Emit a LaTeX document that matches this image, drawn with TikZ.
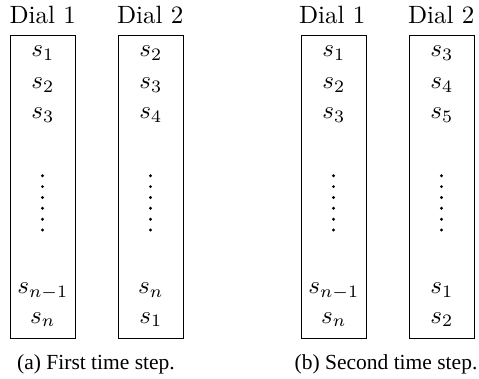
\documentclass[tikz,border=0pt]{standalone}
\usepackage[no-math]{fontspec}
\setmainfont{lmroman10-regular}[Extension=.otf]
\newfontfamily\capfont{Liberation Serif}
\DeclareFontShape{OML}{cmm}{m}{it}{<-15>cmmi5<15-20>cmmi7<20->cmmi10}{\skewchar\font'177}
\DeclareFontShape{OMS}{cmsy}{m}{n}{<-15>cmsy5<15-20>cmsy7<20->cmsy10}{\skewchar\font'60}
\DeclareFontShape{OT1}{cmr}{m}{n}{<-15>cmr5<15-20>cmr7<20->cmr10}{}
\begin{document}
\begin{tikzpicture}[x=1pt,y=-1pt,
  dialbox/.style={draw,line width=0.8pt,minimum width=65pt,minimum height=303pt,inner sep=0pt},
  lab/.style={anchor=base,inner sep=0pt,font=\fontsize{25}{30}\selectfont},
  cell/.style={anchor=base,inner sep=0pt,font=\fontsize{25}{30}\selectfont},
  captext/.style={anchor=base,inner sep=0pt,font=\fontsize{21.5}{26}\selectfont\capfont},
  dotmark/.style={fill=black,circle,inner sep=0pt,minimum size=3.2pt}]
\useasboundingbox (0,0) rectangle (479,379);
% boxes
\node[dialbox] (A1) at (42.5,186.5) {};
\node[dialbox] (A2) at (150.5,186.5) {};
\node[dialbox] (B1) at (333.5,186.5) {};
\node[dialbox] (B2) at (441.5,186.5) {};
% labels
\node[lab] (la1) at (42.7,24) {Dial 1};
\node[lab] (la2) at (150.3,24) {Dial 2};
\node[lab] (lb1) at (332.2,24) {Dial 1};
\node[lab] (lb2) at (441.3,24) {Dial 2};
% columns
\foreach \x/\n/\a/\b/\c/\d/\e in {42.5/a1/s_1/s_2/s_3/s_{n-1}/s_n, 150.5/a2/s_2/s_3/s_4/s_n/s_1, 333.5/b1/s_1/s_2/s_3/s_{n-1}/s_n, 441.5/b2/s_3/s_4/s_5/s_1/s_2}{
  \node[cell] (\n r1) at (\x,57) {$\a$};
  \node[cell] (\n r2) at (\x,88.5) {$\b$};
  \node[cell] (\n r3) at (\x,119) {$\c$};
  \node[cell] (\n r4) at (\x,294) {$\d$};
  \node[cell] (\n r5) at (\x,323) {$\e$};
  \foreach \k in {0,...,5}{
    \node[dotmark] (\n d\k) at (\x,175.8+10.84*\k) {};
  }
}
% captions
\node[captext] (capa) at (96,369) {(a) First time step.};
\node[captext] (capb) at (386,369) {(b) Second time step.};
\end{tikzpicture}
\end{document}
